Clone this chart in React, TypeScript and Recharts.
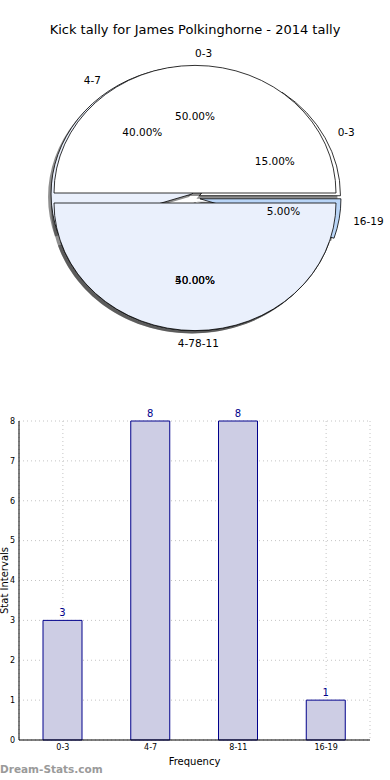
import React from 'react';
import { PieChart, Pie, Cell, BarChart, Bar, XAxis, YAxis, CartesianGrid, LabelList } from 'recharts';

const title = 'Kick tally for James Polkinghorne - 2014 tally';
const bins = ['0-3', '4-7', '8-11', '16-19'];
const kicks = [3, 8, 8, 1];
// second pie that sits on top of the first one in the original
const overlayBins = ['0-3', '4-7'];
const overlayShares = [1, 1];
const yTicks = [0, 1, 2, 3, 4, 5, 6, 7, 8];

const binData = bins.map((name, i) => ({ name, value: kicks[i] }));
const overlayData = overlayBins.map((name, i) => ({ name, value: overlayShares[i] }));

const FONT = '"DejaVu Sans", Verdana, sans-serif';
const backColors = ['#ffffff', '#eaf0fc', '#dce7fa', '#b9d5f7'];
const frontColors = ['#ffffff', '#eaf0fc'];
const KY = 0.905;
const EXPLODE = 5;
const SHADOW = 3;
const RAD = Math.PI / 180;

const mid = (p: any) => (p.startAngle + p.endAngle) / 2;

const origin = (p: any) => {
  const m = mid(p) * RAD;
  return [p.cx + EXPLODE * Math.cos(m), p.cy - EXPLODE * Math.sin(m)];
};

const wedgePath = (cx: number, cy: number, r: number, a0: number, a1: number) => {
  const ry = r * KY;
  const pt = (a: number) => [cx + r * Math.cos(a * RAD), cy - ry * Math.sin(a * RAD)];
  const [x0, y0] = pt(a0);
  const [x1, y1] = pt(a1);
  const large = Math.abs(a1 - a0) > 180 ? 1 : 0;
  return `M${cx},${cy}L${x0},${y0}A${r},${ry} 0 ${large} 0 ${x1},${y1}Z`;
};

const Wedge = (p: any) => {
  const [ox, oy] = origin(p);
  return (
    <path
      d={wedgePath(ox, oy, p.outerRadius, p.startAngle, p.endAngle)}
      fill={p.fill}
      stroke="#000"
      strokeWidth={0.8}
    />
  );
};

const WedgeShadow = (p: any) => {
  const [ox, oy] = origin(p);
  return (
    <path
      d={wedgePath(ox - SHADOW, oy + SHADOW, p.outerRadius, p.startAngle, p.endAngle)}
      fill="#333"
      fillOpacity={0.55}
      stroke="none"
    />
  );
};

const Nothing = () => <g />;

// nudge only decides which side a label hangs on when it sits straight below the centre
const makeLabels = (nudge: number) => (p: any) => {
  const [ox, oy] = origin(p);
  const m = mid(p) * RAD;
  const r = p.outerRadius;
  const lx = ox + 1.1 * r * Math.cos(m);
  const ly = oy - 1.1 * r * KY * Math.sin(m);
  const px = ox + 0.6 * r * Math.cos(m);
  const py = oy - 0.6 * r * KY * Math.sin(m);
  const side = Math.cos((mid(p) + nudge) * RAD) > 0 ? 'start' : 'end';
  return (
    <g fontFamily={FONT} fontSize={10.5} fill="#000">
      <text x={lx} y={ly} textAnchor={side} dominantBaseline="central">
        {p.name}
      </text>
      <text x={px} y={py} textAnchor="middle" dominantBaseline="central">
        {(p.percent * 100).toFixed(2)}%
      </text>
    </g>
  );
};

const pieProps = {
  dataKey: 'value',
  nameKey: 'name',
  cx: 195,
  cy: 198,
  outerRadius: 141,
  startAngle: 0,
  endAngle: 360,
  isAnimationActive: false,
  labelLine: false,
};

export default function App() {
  return (
    <div style={{ position: 'absolute', left: 0, top: 0, width: 390, height: 780, background: '#fff' }}>
      <div
        style={{
          position: 'absolute',
          top: 22,
          left: 0,
          width: 390,
          textAlign: 'center',
          fontFamily: FONT,
          fontSize: 13,
          lineHeight: '16px',
        }}
      >
        {title}
      </div>
      <div style={{ position: 'absolute', top: 0, left: 0 }}>
        <PieChart width={390} height={390} margin={{ top: 0, right: 0, bottom: 0, left: 0 }}>
          <Pie {...pieProps} data={binData} shape={WedgeShadow}>
            {binData.map((d, i) => (
              <Cell key={d.name} fill={backColors[i]} />
            ))}
          </Pie>
          <Pie {...pieProps} data={overlayData} shape={WedgeShadow}>
            {overlayData.map((d, i) => (
              <Cell key={d.name} fill={frontColors[i]} />
            ))}
          </Pie>
          <Pie {...pieProps} data={binData} shape={Wedge}>
            {binData.map((d, i) => (
              <Cell key={d.name} fill={backColors[i]} />
            ))}
          </Pie>
          <Pie {...pieProps} data={overlayData} shape={Wedge}>
            {overlayData.map((d, i) => (
              <Cell key={d.name} fill={frontColors[i]} />
            ))}
          </Pie>
          <Pie {...pieProps} data={binData} shape={Nothing} label={makeLabels(0.001)} />
          <Pie {...pieProps} data={overlayData} shape={Nothing} label={makeLabels(0)} />
        </PieChart>
      </div>
      <div style={{ position: 'absolute', top: 400, left: 0 }}>
        <BarChart width={390} height={380} data={binData} margin={{ top: 21, right: 20, left: 0, bottom: 0 }}>
          <CartesianGrid stroke="#c4c4c4" strokeDasharray="1 3" />
          <XAxis
            dataKey="name"
            height={40}
            tickLine={false}
            tickSize={0}
            tickMargin={4}
            tick={{ fontSize: 8, fill: '#000', fontFamily: FONT }}
            axisLine={{ stroke: '#000' }}
            label={{ value: 'Frequency', position: 'insideBottom', offset: 15, fontSize: 10, fill: '#000', fontFamily: FONT }}
          />
          <XAxis xAxisId="top" orientation="top" dataKey="name" height={0} tick={false} tickLine={false} axisLine={{ stroke: '#000' }} />
          <YAxis
            domain={[0, 8]}
            ticks={yTicks}
            width={19}
            tickLine={false}
            tickSize={0}
            tickMargin={4}
            tick={{ fontSize: 8, fill: '#000', fontFamily: FONT }}
            axisLine={{ stroke: '#000' }}
            label={{
              content: ({ viewBox }: any) => {
                const x = viewBox.x + 4;
                const y = viewBox.y + viewBox.height / 2;
                return (
                  <text
                    x={x}
                    y={y}
                    transform={`rotate(-90 ${x} ${y})`}
                    textAnchor="middle"
                    dominantBaseline="central"
                    fontSize={10}
                    fontFamily={FONT}
                    fill="#000"
                  >
                    Stat Intervals
                  </text>
                );
              },
            }}
          />
          <YAxis yAxisId="right" orientation="right" width={0} tick={false} tickLine={false} axisLine={{ stroke: '#000' }} />
          <Bar dataKey="value" barSize={39} fill="#cdcde4" stroke="#00008b" strokeWidth={1} isAnimationActive={false}>
            <LabelList dataKey="value" position="top" offset={4} fill="#00008b" fontSize={10} fontFamily={FONT} />
          </Bar>
        </BarChart>
      </div>
      <div
        style={{
          position: 'absolute',
          left: 0,
          top: 762,
          fontFamily: FONT,
          fontSize: 10.5,
          fontWeight: 'bold',
          color: '#9a9a9a',
          lineHeight: '15px',
        }}
      >
        Dream-Stats.com
      </div>
    </div>
  );
}
